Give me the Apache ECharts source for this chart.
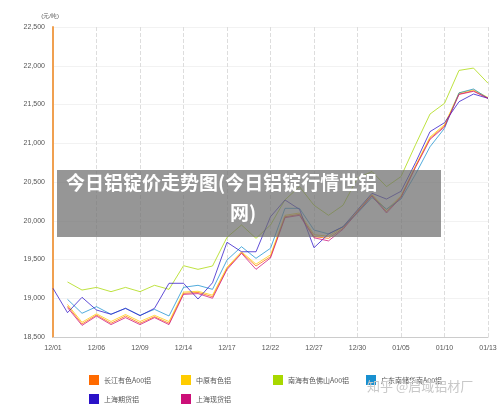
<!DOCTYPE html>
<html><head><meta charset="utf-8">
<script src="https://cdn.jsdelivr.net/npm/echarts@6/dist/echarts.min.js"></script>
<style>html,body{margin:0;padding:0;background:#fff}#c{width:500px;height:409px}</style>
</head><body><div id="c"></div>
<script>
const categories=['12/01','12/02','12/05','12/06','12/07','12/08','12/09','12/12','12/13','12/14','12/15','12/16','12/17','12/19','12/20','12/22','12/23','12/26','12/27','12/28','12/29','12/30','01/03','01/04','01/05','01/06','01/09','01/10','01/11','01/12','01/13'];
const tickLabels=['12/01','12/06','12/09','12/14','12/17','12/22','12/27','12/30','01/05','01/10','01/13'];
const changjiang=[null,18900,18668,18784,18677,18770,18677,18762,18677,19063,19075,19020,19386,19588,19416,19536,20052,20083,19795,19773,19902,20117,20330,20117,20310,20700,21064,21223,21635,21678,21580];
const zhongyuan=[null,18920,18690,18800,18700,18790,18700,18780,18700,19080,19090,19040,19400,19600,19440,19560,20070,20100,19820,19800,19920,20130,20340,20140,20320,20710,21080,21240,21650,21690,21590];
const nanhai=[null,19210,19106,19140,19085,19140,19085,19167,19115,19420,19373,19416,19786,19945,19773,19945,20270,20440,20200,20070,20200,20550,20635,20440,20570,20980,21377,21515,21940,21970,21775];
const guangdong=[null,18986,18806,18891,18793,18870,18780,18857,18771,19141,19167,19115,19493,19665,19515,19645,20160,20160,19880,19830,19923,20100,20300,20150,20280,20600,20955,21193,21650,21700,21580];
const shqh=[19128,18814,19012,18848,18793,18870,18775,18870,19193,19193,18990,19200,19722,19600,19600,20052,20268,20147,19652,19830,19923,20140,20354,20280,20380,20750,21150,21265,21536,21635,21580];
const shxh=[null,18880,18650,18770,18660,18750,18660,18750,18660,19050,19060,19000,19370,19580,19373,19520,20040,20070,19780,19740,19890,20110,20320,20100,20300,20690,21050,21210,21630,21670,21580];
const names=['长江有色A00铝','中原有色铝','南海有色佛山A00铝','广东南储华南A00铝','上海期货铝','上海现货铝'];
const colors=['#ff6a00','#ffcc00','#a8d800','#1890d0','#2b12c8','#cc0f78'];
const datas=[changjiang,zhongyuan,nanhai,guangdong,shqh,shxh];
const pos=[[84,370],[176,370],[268,370],[361,370],[84,389],[176,389]];
const chart=echarts.init(document.getElementById('c'));
chart.setOption({
  animation:false,
  grid:{left:53,right:12,top:27,bottom:72},
  legend:names.map((n,i)=>({data:[n],left:pos[i][0],top:pos[i][1],icon:'rect',itemWidth:10,itemHeight:10,itemGap:4,textStyle:{fontSize:7,color:'#555',fontFamily:'Noto Sans CJK SC'}})),
  xAxis:{type:'category',data:categories,boundaryGap:false,
    axisLine:{lineStyle:{color:'#ccc'}},axisTick:{show:false},
    axisLabel:{interval:2,fontSize:7,color:'#555',margin:8},
    splitLine:{show:true,interval:2,lineStyle:{color:'#ddd',type:'dashed'}}},
  yAxis:{type:'value',min:18500,max:22500,interval:500,name:'(元/吨)',nameGap:8,
    nameTextStyle:{fontSize:6,color:'#555',align:'right',padding:[0,-6,0,0]},
    axisLine:{show:true,lineStyle:{color:'#f0a050',width:2}},axisTick:{show:false},
    axisLabel:{fontSize:7,color:'#555',formatter:v=>v.toLocaleString('en-US')},
    splitLine:{show:true,lineStyle:{color:'#f2f2f2'}}},
  series:names.map((n,i)=>({name:n,type:'line',data:datas[i],symbol:'none',connectNulls:false,
    itemStyle:{color:colors[i]},lineStyle:{width:1,color:colors[i],opacity:0.75}})),
  graphic:[
    {type:'rect',left:57,top:170,shape:{width:384,height:67},style:{fill:'rgba(110,110,110,0.72)'},z:100},
    {type:'text',left:66,top:173,style:{text:'今日铝锭价走势图(今日铝锭行情世铝',fill:'#fff',font:'bold 19px "Noto Sans CJK SC"'},z:101},
    {type:'text',left:230,top:203,style:{text:'网)',fill:'#fff',font:'bold 19px "Noto Sans CJK SC"'},z:101},
    {type:'text',left:367,top:380,style:{text:'知乎 @启域铝材厂',fill:'#c8c8c8',font:'13px "Noto Sans CJK SC"'},z:101}
  ]
});
</script></body></html>
